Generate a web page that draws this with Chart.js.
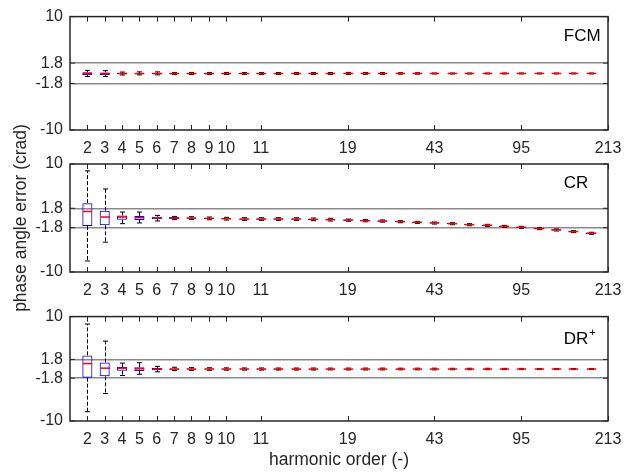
<!DOCTYPE html>
<html>
<head>
<meta charset="utf-8">
<script src="https://cdn.jsdelivr.net/npm/chart.js@4"></script>
<style>
  body { margin: 0; background: #fff; }
  .panel { position: absolute; left: 0; width: 632px; }
</style>
</head>
<body>
<div class="panel" style="top:0"><canvas id="fcm" width="632" height="160"></canvas></div>
<div class="panel" style="top:300px"><canvas id="dr" width="632" height="174"></canvas></div>
<div class="panel" style="top:100px"><canvas id="cr" width="632" height="260"></canvas></div>
<script>
// box positions on the x axis and the harmonic order tick labels
const boxPos = [0, 1, 2, 3, 4, 5, 6, 7, 8, 9, 10, 11, 12, 13, 14, 15, 16, 17, 18, 19, 20, 21, 22, 23, 24, 25, 26, 27, 28, 29];
const xTickPos = [0, 1, 2, 3, 4, 5, 6, 7, 8, 10, 15, 20, 25, 30];
const xTickText = ['2', '3', '4', '5', '6', '7', '8', '9', '10', '11', '19', '43', '95', '213'];
const yTicks = [-10, -1.8, 1.8, 10];

// FCM
const fcmMin = [-0.57, -0.57, -0.30, -0.28, -0.28, -0.22, -0.22, -0.22, -0.22, -0.20, -0.20, -0.20, -0.20, -0.20, -0.20, -0.20, -0.18, -0.18, -0.15, -0.15, -0.12, -0.12, -0.12, -0.10, -0.10, -0.10, -0.10, -0.10, -0.10, -0.10];
const fcmQ1 = [-0.30, -0.28, -0.15, -0.14, -0.14, -0.12, -0.12, -0.12, -0.11, -0.11, -0.10, -0.10, -0.10, -0.10, -0.10, -0.10, -0.09, -0.09, -0.09, -0.08, -0.08, -0.08, -0.08, -0.08, -0.08, -0.08, -0.08, -0.08, -0.08, -0.08];
const fcmMed = [-0.05, -0.05, -0.05, -0.05, -0.05, -0.05, -0.05, -0.05, -0.05, -0.05, -0.05, -0.05, -0.04, -0.04, -0.04, -0.03, -0.03, -0.03, -0.03, -0.03, -0.03, -0.03, -0.03, -0.03, -0.03, -0.03, -0.03, -0.03, -0.03, -0.03];
const fcmQ3 = [0.20, 0.15, 0.08, 0.08, 0.08, 0.05, 0.05, 0.05, 0.05, 0.04, 0.04, 0.04, 0.04, 0.04, 0.04, 0.04, 0.03, 0.03, 0.03, 0.03, 0.02, 0.02, 0.02, 0.02, 0.02, 0.02, 0.02, 0.02, 0.02, 0.02];
const fcmMax = [0.52, 0.46, 0.22, 0.25, 0.25, 0.15, 0.15, 0.15, 0.15, 0.14, 0.14, 0.14, 0.14, 0.14, 0.14, 0.15, 0.14, 0.14, 0.10, 0.10, 0.05, 0.05, 0.05, 0.05, 0.05, 0.05, 0.05, 0.05, 0.05, 0.05];

// CR
const crMin = [-7.96, -4.48, -1.05, -0.92, -0.55, -0.31, -0.26, -0.32, -0.38, -0.44, -0.44, -0.44, -0.44, -0.50, -0.56, -0.60, -0.70, -0.76, -0.88, -1.00, -1.12, -1.25, -1.43, -1.55, -1.74, -1.92, -2.16, -2.41, -2.71, -3.02];
const crQ1 = [-1.47, -1.36, -0.31, -0.37, -0.18, -0.18, -0.13, -0.19, -0.25, -0.31, -0.31, -0.31, -0.31, -0.37, -0.43, -0.52, -0.62, -0.68, -0.80, -0.92, -1.04, -1.17, -1.35, -1.47, -1.66, -1.84, -2.08, -2.33, -2.63, -2.94];
const crMed = [1.21, 0.18, 0.18, 0.06, 0.00, 0.00, -0.01, -0.07, -0.13, -0.19, -0.19, -0.19, -0.19, -0.25, -0.31, -0.40, -0.50, -0.56, -0.68, -0.80, -0.92, -1.05, -1.23, -1.35, -1.54, -1.72, -1.96, -2.21, -2.51, -2.82];
const crQ3 = [2.75, 1.34, 0.48, 0.37, 0.24, 0.18, 0.11, 0.05, -0.01, -0.07, -0.07, -0.07, -0.07, -0.13, -0.19, -0.28, -0.38, -0.44, -0.56, -0.68, -0.80, -0.93, -1.11, -1.23, -1.42, -1.60, -1.84, -2.09, -2.39, -2.70];
const crMax = [8.73, 5.38, 1.10, 1.10, 0.48, 0.29, 0.24, 0.18, 0.12, 0.06, 0.06, 0.06, 0.06, 0.00, -0.06, -0.20, -0.30, -0.36, -0.50, -0.62, -0.74, -0.87, -1.05, -1.17, -1.36, -1.54, -1.78, -2.03, -2.33, -2.64];

// DR+
const drMin = [-8.22, -4.72, -1.28, -1.05, -0.58, -0.35, -0.30, -0.28, -0.26, -0.25, -0.25, -0.24, -0.24, -0.24, -0.22, -0.22, -0.22, -0.22, -0.20, -0.20, -0.20, -0.18, -0.18, -0.18, -0.16, -0.16, -0.15, -0.15, -0.15, -0.15];
const drQ1 = [-1.70, -1.45, -0.35, -0.40, -0.23, -0.16, -0.15, -0.14, -0.14, -0.13, -0.13, -0.13, -0.13, -0.12, -0.12, -0.12, -0.12, -0.12, -0.12, -0.11, -0.11, -0.11, -0.11, -0.11, -0.11, -0.10, -0.10, -0.10, -0.10, -0.10];
const drMed = [1.00, 0.12, 0.12, 0.00, -0.05, -0.05, -0.05, -0.05, -0.05, -0.05, -0.05, -0.05, -0.05, -0.05, -0.05, -0.05, -0.05, -0.05, -0.05, -0.05, -0.05, -0.05, -0.05, -0.05, -0.05, -0.05, -0.05, -0.05, -0.05, -0.05];
const drQ3 = [2.57, 1.22, 0.35, 0.30, 0.17, 0.08, 0.06, 0.05, 0.05, 0.04, 0.04, 0.04, 0.04, 0.03, 0.03, 0.03, 0.03, 0.03, 0.03, 0.02, 0.02, 0.02, 0.02, 0.02, 0.02, 0.01, 0.01, 0.01, 0.01, 0.01];
const drMax = [8.57, 5.30, 1.10, 1.17, 0.47, 0.30, 0.22, 0.20, 0.18, 0.16, 0.16, 0.15, 0.15, 0.15, 0.14, 0.14, 0.14, 0.14, 0.12, 0.12, 0.12, 0.10, 0.10, 0.10, 0.08, 0.08, 0.06, 0.06, 0.06, 0.06];

const FONT = "'Liberation Sans', Arial, sans-serif";
const INK = '#262626';

// whiskers, caps, medians, frame, inward ticks and the panel label
const makeBoxPlugin = (stats, label, labelPos) => ({
    id: 'boxWhiskers',
    afterDatasetsDraw(chart) {
        const { ctx, chartArea: a, scales: { x, y } } = chart;
        ctx.save();

        // frame
        ctx.strokeStyle = INK;
        ctx.lineWidth = 1.5;
        ctx.strokeRect(a.left, a.top, a.right - a.left, a.bottom - a.top);

        // inward ticks
        ctx.lineWidth = 1;
        ctx.beginPath();
        xTickPos.forEach(v => {
            const px = Math.round(x.getPixelForValue(v)) + 0.5;
            ctx.moveTo(px, a.bottom); ctx.lineTo(px, a.bottom - 5);
            ctx.moveTo(px, a.top); ctx.lineTo(px, a.top + 5);
        });
        yTicks.forEach(v => {
            const py = y.getPixelForValue(v);
            ctx.moveTo(a.left, py); ctx.lineTo(a.left + 5, py);
            ctx.moveTo(a.right, py); ctx.lineTo(a.right - 5, py);
        });
        ctx.stroke();

        boxPos.forEach((p, i) => {
            const px = Math.round(x.getPixelForValue(p)) + 0.5;
            const half = x.getPixelForValue(p + 0.27) - x.getPixelForValue(p);
            const cap = 2.5;

            ctx.strokeStyle = '#000';
            ctx.lineWidth = 1;
            ctx.setLineDash([4, 2]);
            ctx.beginPath();
            ctx.moveTo(px, y.getPixelForValue(stats.q3[i]));
            ctx.lineTo(px, y.getPixelForValue(stats.max[i]));
            ctx.moveTo(px, y.getPixelForValue(stats.q1[i]));
            ctx.lineTo(px, y.getPixelForValue(stats.min[i]));
            ctx.stroke();
            ctx.setLineDash([]);

            ctx.beginPath();
            ctx.moveTo(px - cap, y.getPixelForValue(stats.max[i]));
            ctx.lineTo(px + cap, y.getPixelForValue(stats.max[i]));
            ctx.moveTo(px - cap, y.getPixelForValue(stats.min[i]));
            ctx.lineTo(px + cap, y.getPixelForValue(stats.min[i]));
            ctx.stroke();

            ctx.strokeStyle = '#ff0000';
            ctx.lineWidth = 1.5;
            ctx.beginPath();
            ctx.moveTo(px - half, y.getPixelForValue(stats.med[i]));
            ctx.lineTo(px + half, y.getPixelForValue(stats.med[i]));
            ctx.stroke();
        });

        // panel label
        ctx.fillStyle = '#000';
        ctx.font = '17px ' + FONT;
        ctx.textBaseline = 'alphabetic';
        const lx = x.getPixelForValue(labelPos[0]);
        const ly = y.getPixelForValue(labelPos[1]);
        ctx.fillText(label, lx, ly);
        if (label === 'DR') {
            const w = ctx.measureText(label).width;
            ctx.font = '11px ' + FONT;
            ctx.fillText('+', lx + w + 1, ly - 8);
        }
        ctx.restore();
    },
});

const makePanel = (id, stats, opts) => {
    const ctx = document.getElementById(id).getContext('2d');
    return new Chart(ctx, {
        type: 'bar',
        data: {
            datasets: [{
                data: boxPos.map((p, i) => ({ x: p, y: [stats.q1[i], stats.q3[i]] })),
                backgroundColor: 'rgba(0, 0, 0, 0)',
                borderColor: '#0000ff',
                borderWidth: 1,
                borderSkipped: false,
                barPercentage: 0.58,
                categoryPercentage: 1,
            }],
        },
        options: {
            responsive: false,
            animation: false,
            layout: { padding: { top: opts.padTop, right: 24, left: 0, bottom: 0 } },
            plugins: { legend: { display: false }, tooltip: { enabled: false } },
            scales: {
                x: {
                    type: 'linear',
                    offset: false,
                    min: -1,
                    max: 30,
                    afterFit: s => { s.height = opts.xHeight; },
                    afterBuildTicks: s => { s.ticks = xTickPos.map(v => ({ value: v })); },
                    ticks: {
                        autoSkip: false,
                        maxRotation: 0,
                        padding: 9,
                        color: INK,
                        font: { family: FONT, size: 16 },
                        callback: v => xTickText[xTickPos.indexOf(v)],
                    },
                    grid: { display: false, drawTicks: false },
                    border: { display: false },
                    title: {
                        display: !!opts.xTitle,
                        text: opts.xTitle || '',
                        color: INK,
                        font: { family: FONT, size: 17.5 },
                        padding: { top: 0, bottom: 3 },
                    },
                },
                y: {
                    min: -10,
                    max: 10,
                    afterFit: s => { s.width = 70; },
                    afterBuildTicks: s => { s.ticks = yTicks.map(v => ({ value: v })); },
                    ticks: {
                        padding: 7,
                        color: INK,
                        font: { family: FONT, size: 16 },
                        callback: v => String(v),
                    },
                    grid: {
                        drawTicks: false,
                        lineWidth: 1.5,
                        color: c => (Math.abs(c.tick.value) === 1.8 ? '#8a8a8a' : 'rgba(0, 0, 0, 0)'),
                    },
                    border: { display: false },
                    title: {
                        display: !!opts.yTitle,
                        text: opts.yTitle || '',
                        color: INK,
                        font: { family: FONT, size: 17.5 },
                        padding: { top: 11, bottom: 0 },
                    },
                },
            },
        },
        plugins: [makeBoxPlugin(stats, opts.label, opts.labelPos)],
    });
};

makePanel('fcm',
    { min: fcmMin, q1: fcmQ1, med: fcmMed, q3: fcmQ3, max: fcmMax },
    { padTop: 14, xHeight: 30, label: 'FCM', labelPos: [27.45, 5.7] });

makePanel('dr',
    { min: drMin, q1: drQ1, med: drMed, q3: drQ3, max: drMax },
    { padTop: 5, xHeight: 53, label: 'DR', labelPos: [27.45, 4.7], xTitle: 'harmonic order (-)' });

// the middle canvas is taller so the shared y title fits; it is transparent
makePanel('cr',
    { min: crMin, q1: crQ1, med: crMed, q3: crQ3, max: crMax },
    { padTop: 64, xHeight: 88, label: 'CR', labelPos: [27.45, 5.6], yTitle: 'phase angle error (crad)' });
</script>
</body>
</html>
